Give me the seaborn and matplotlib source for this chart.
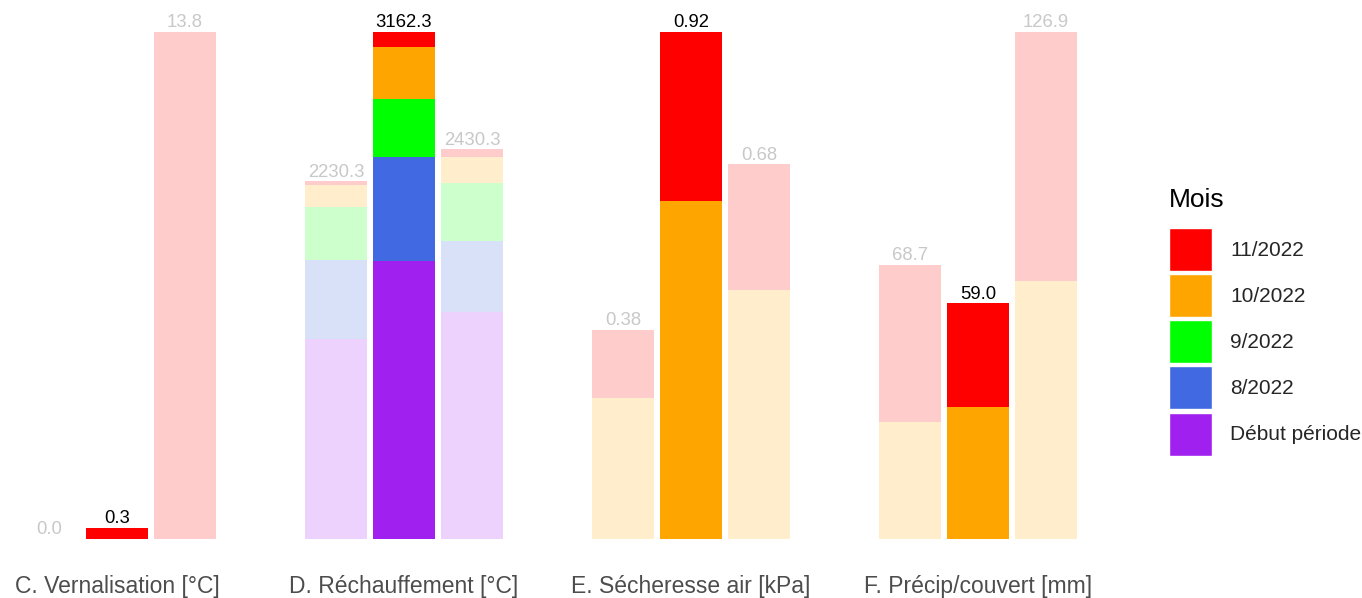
import numpy as np
import pandas as pd
import matplotlib
matplotlib.use("Agg")
import matplotlib.pyplot as plt
import seaborn as sns
from matplotlib.patches import Patch

sns.set_style("white")
plt.rcParams['font.family'] = ['Liberation Sans', 'DejaVu Sans']

# months, bottom of the stack first
months = ["Début période", "8/2022", "9/2022", "10/2022", "11/2022"]
colors = ["#A020F0", "#4169E1", "#00FF00", "#FFA500", "#FF0000"]
faded = ["#ECD2FC", "#D9E1F9", "#CCFFCC", "#FFEDCC", "#FFCCCC"]

periods = ["Précédent", "Actuel", "Suivant"]

facet_titles = ["C. Vernalisation [°C]", "D. Réchauffement [°C]",
                "E. Sécheresse air [kPa]", "F. Précip/couvert [mm]"]
decimals = [1, 1, 2, 1]

# values per month (Début, 8, 9, 10, 11) for each of the 3 bars
vern = [[0, 0, 0, 0, 0.0],
        [0, 0, 0, 0, 0.3],
        [0, 0, 0, 0, 13.8]]
rech = [[1245, 498, 330, 138, 19.3],
        [1737, 647, 361, 324, 93.3],
        [1413, 448, 361, 163, 45.3]]
sech = [[0, 0, 0, 0.256, 0.124],
        [0, 0, 0, 0.613, 0.307],
        [0, 0, 0, 0.451, 0.229]]
prec = [[0, 0, 0, 29.2, 39.5],
        [0, 0, 0, 33.1, 25.9],
        [0, 0, 0, 64.5, 62.4]]
facet_data = [vern, rech, sech, prec]

W, H = 1362, 598
fig = plt.figure(figsize=(W / 100, H / 100), dpi=100)

centers = [117, 404, 691, 978]
unit = 68
bottom_px, top_px = 539, 32

for f, data in enumerate(facet_data):
    arr = np.array(data, dtype=float)
    cum = arr.cumsum(axis=1)
    totals = cum[:, -1]
    left = centers[f] - 1.6 * unit
    ax = fig.add_axes([left / W, 1 - bottom_px / H, 3.2 * unit / W, (bottom_px - top_px) / H])
    # draw cumulative sums from the top month down so lower months overlay
    for k in range(len(months) - 1, -1, -1):
        df = pd.DataFrame({"period": periods, "value": cum[:, k]})
        pal = {periods[0]: faded[k], periods[1]: colors[k], periods[2]: faded[k]}
        sns.barplot(data=df, x="period", y="value", hue="period", palette=pal,
                    order=periods, hue_order=periods, width=0.9, saturation=1,
                    linewidth=0, legend=False, ax=ax)
    for i, tot in enumerate(totals):
        ax.annotate(f"{tot:.{decimals[f]}f}", (i, tot), xytext=(0, 0.5),
                    textcoords="offset points", ha="center", va="bottom",
                    fontsize=13.3, color="black" if i == 1 else "#C8C8C8",
                    annotation_clip=False)
    ax.set_xlim(-0.6, 2.6)
    ax.set_ylim(0, totals.max())
    ax.axis("off")
    fig.text(centers[f] / W, 1 - 586 / H, facet_titles[f], ha="center", va="center",
             fontsize=16.5, color="#4D4D4D")

handles = [Patch(facecolor=colors[k], edgecolor="white", linewidth=1) for k in range(len(months) - 1, -1, -1)]
labels = months[::-1]
fig.text(1169 / W, 1 - 200 / H, "Mois", ha="left", va="center", fontsize=19, color="black")
leg = fig.legend(handles, labels, loc="upper left",
                 bbox_to_anchor=(1169 / W, 1 - 228 / H), frameon=False,
                 fontsize=15, handlelength=2.05, handleheight=2.8,
                 labelspacing=0.15, handletextpad=0.9, borderpad=0, borderaxespad=0)

fig.savefig("out.png", dpi=100)
